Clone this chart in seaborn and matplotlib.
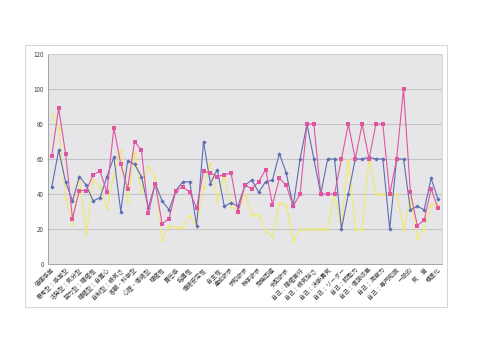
import matplotlib
matplotlib.use("Agg")
import matplotlib.pyplot as plt
import seaborn as sns
import pandas as pd
from matplotlib.patches import Rectangle

sns.set_theme(style="white")
plt.rcParams['font.family'] = ['Noto Sans CJK JP', 'DejaVu Sans']

labels = ["価値感覚", "思考型：感覚型", "活発型：気分型", "努力型：積極性", "積極型：自尊心",
          "自制型：根気さ", "客観・科学型", "心理・情緒型", "積極性", "責任感", "指導性",
          "情緒安定性", "自主性", "達成欲求", "求知欲求", "秩序欲求", "危機回避", "支配欲求",
          "自己：積極実行", "自己：根気強さ", "自己：決断勇気", "自己：リーダー", "自己：調整力",
          "自己：情報収集", "自己：洞察力", "自己：専門知識", "一般的", "気　質", "標準化"]

blue = [44, 65, 47, 36, 50, 45, 36, 38, 50, 61, 30, 59, 57, 50, 32, 46, 36, 31, 42, 47,
        47, 22, 70, 46, 54, 33, 35, 33, 45, 48, 41, 47, 48, 63, 52, 33, 60, 80, 60, 40,
        60, 60, 20, 40, 60, 60, 61, 60, 60, 20, 60, 60, 31, 33, 31, 49, 37]
magenta = [62, 89, 63, 26, 42, 42, 51, 53, 41, 78, 57, 43, 70, 65, 29, 46, 23, 26, 42, 44,
           41, 32, 53, 52, 50, 51, 52, 30, 45, 43, 47, 54, 34, 49, 45, 33, 40, 80, 80, 40,
           40, 40, 60, 80, 60, 80, 60, 80, 80, 40, 60, 100, 41, 22, 25, 43, 32]
yellow = [86, 78, 38, 23, 50, 17, 48, 44, 32, 51, 65, 36, 64, 42, 56, 50, 14, 22, 21, 21,
          28, 22, 44, 58, 36, 50, 33, 30, 40, 28, 28, 19, 16, 35, 34, 13, 20, 20, 20, 20,
          20, 40, 20, 60, 20, 20, 60, 40, 40, 40, 40, 20, 38, 15, 20, 34, 34]

series_names = ["yellow", "blue", "magenta"]
n = len(blue)
rows = []
for name, vals in zip(series_names, [yellow, blue, magenta]):
    for i, v in enumerate(vals):
        rows.append({"idx": i, "value": v, "series": name})
df = pd.DataFrame(rows)

palette = {"yellow": "#efea6e", "blue": "#5d6db3", "magenta": "#e0559f"}
markers = {"yellow": "^", "blue": "D", "magenta": "s"}
sizes = {"yellow": 2.5, "blue": 2.2, "magenta": 3.2}

fig = plt.figure(figsize=(4.8, 3.51), dpi=100)
fig.patch.set_facecolor("white")
bg = fig.add_axes([0, 0, 1, 1], zorder=-1)
bg.set_xlim(0, 480)
bg.set_ylim(351, 0)
bg.axis("off")
bg.add_patch(Rectangle((25, 45), 422, 262, facecolor="white", edgecolor="#d8d8d8", linewidth=0.8))

ax = fig.add_axes([48/480, 1-264/351, 394/480, 210/351], zorder=1)
ax.set_facecolor("#e6e6e8")

for name in series_names:
    sub = df[df.series == name]
    sns.lineplot(data=sub, x="idx", y="value", ax=ax, color=palette[name], marker=markers[name],
                 markersize=sizes[name], markeredgewidth=0, linewidth=0.8, legend=False, zorder=3)

ax.set_xlim(-0.55, n - 1 + 0.58)
ax.set_ylim(0, 120)
ax.set_yticks(range(0, 121, 20))
ax.yaxis.grid(True, color="#c4c4c6", linewidth=0.8)
ax.set_axisbelow(True)
ax.tick_params(axis="y", labelsize=4.5, colors="#444444", length=0, pad=3)
ax.set_xticks(range(0, n, 2))
ax.set_xticklabels(labels, rotation=45, ha="right", rotation_mode="anchor", fontsize=4.3,
                   color="#3a3a3a")
ax.tick_params(axis="x", length=0, pad=2)
ax.set_xlabel("")
ax.set_ylabel("")
for s in ["top", "right"]:
    ax.spines[s].set_color("#d0d0d0")
    ax.spines[s].set_linewidth(0.6)
ax.spines["left"].set_color("#9a9a9a")
ax.spines["left"].set_linewidth(0.6)
ax.spines["bottom"].set_color("#9a9a9a")
ax.spines["bottom"].set_linewidth(0.6)

fig.savefig("out.png", dpi=100)
